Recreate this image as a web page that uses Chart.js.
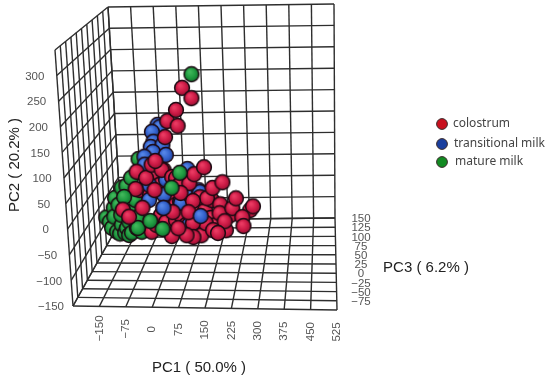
<!DOCTYPE html>
<html>
<head>
<meta charset="utf-8">
<title>PCA of milk samples</title>
<script src="https://cdn.jsdelivr.net/npm/chart.js@4/dist/chart.umd.min.js"></script>
<style>
  html, body { margin: 0; padding: 0; background: #fff; }
  canvas { display: block; }
</style>
</head>
<body>
<canvas id="pca" width="550" height="382"></canvas>
<script>
// grid ticks of the box, first or last one has no printed label
const pc1Ticks = [-225, -150, -75, 0, 75, 150, 225, 300, 375, 450, 525];
const pc2Ticks = [-150, -100, -50, 0, 50, 100, 150, 200, 250, 300, 350];
const pc3Ticks = [-100, -75, -50, -25, 0, 25, 50, 75, 100, 125, 150];
const pc1Labels = [-150, -75, 0, 75, 150, 225, 300, 375, 450, 525];
const pc2Labels = [-150, -100, -50, 0, 50, 100, 150, 200, 250, 300];
const pc3Labels = [-75, -50, -25, 0, 25, 50, 75, 100, 125, 150];

const seriesNames = ["colostrum", "transitional milk", "mature milk"];

// depth can't be read from a flat picture, all samples sit on one PC3 plane
const pc3Plane = 25;

// samples, listed back to front because that is how they overlap
const matureBackPC1 = [-187, -177, -171, -162, -162, -156, -156, -147, -147, -140, -140, -134, -131, -125, -119, -119, -116, -110, -110, -103, -94, -94, -91, -79, -79, -77];
const matureBackPC2 = [-53, -62, -75, -32, -51, -83, -11, -26, -87, -68, -47, 11, -85, -75, 15, -90, -62, -41, -85, 32, -15, -75, -53, -83, 45, 72];

const colostrumBackPC1 = [-79, -48, -48, -33, -33, -17, -17, -2, -2, 14, 29, 29, 44, 60, 60, 75, 91, 100, 106, 121, 137, 143, 152, 183, 198];
const colostrumBackPC2 = [6, -4, -83, 38, -68, -47, 17, -62, 49, -15, -58, -26, -47, -4, -68, -26, -79, -36, -90, -36, -53, -15, -68, -79, -47];

const transitionalMidPC1 = [-14, -8, -32, -29, -38, -2, -32, 7, -59, -59, 71, -48, 4, -5, -51, -8, 44, 47, 69, 75, 103, 106];
const transitionalMidPC2 = [145, 140, 130, 109, 98, 102, 87, 81, 77, 60, 51, 17, 28, -4, -15, -32, -19, -21, -68, -4, 6, 2];

const colostrumMidPC1 = [-85, -57, -38, -8, -91, -33, 23, 35, 44, 75, 47, 91, 122, 106, 128, 146, 84, 177, 168, 165, 205, 217, 260, 269, 235, 238, 180, 121, 143, 158, 81, 81, 60, 14, 35, 20, 69];
const colostrumMidPC2 = [45, 32, 60, 49, 8, 6, 34, 32, 17, 21, 0, 40, 55, -9, -11, 11, -17, 23, -24, -43, -32, -11, -36, -28, -51, -70, -60, -64, -79, -85, -64, -94, -90, -92, -75, -41, -41];

const matureFrontPC1 = [-128, -91, -51, -14, 20, 47];
const matureFrontPC2 = [-9, -75, -60, -77, 11, 43];

const transitionalFrontPC1 = [-8, 106];
const transitionalFrontPC2 = [-32, -49];

const colostrumFrontPC1 = [-134, -116, -73, -26, 7, 16, 47, 44, 65, 92];
const colostrumFrontPC2 = [-36, -51, -32, 68, 119, 153, 143, 177, 224, 202];

const matureTopPC1 = [95];
const matureTopPC2 = [253];

// screen position of the eight box corners, that's the camera
const backView = { tl: [108, 7], tr: [334, 4], bl: [121, 220], br: [335, 218] };
const frontView = { tl: [55, 50], tr: [336, 54], bl: [73, 306], br: [337, 310] };

function mix(a, b, t) {
  return a + (b - a) * t;
}

function project(pc1, pc2, pc3) {
  const u = (pc1 - pc1Ticks[0]) / (pc1Ticks[pc1Ticks.length - 1] - pc1Ticks[0]);
  const v = (pc2 - pc2Ticks[0]) / (pc2Ticks[pc2Ticks.length - 1] - pc2Ticks[0]);
  const w = (pc3Ticks[pc3Ticks.length - 1] - pc3) / (pc3Ticks[pc3Ticks.length - 1] - pc3Ticks[0]);
  const onPlane = (view, i) => mix(mix(view.bl[i], view.br[i], u), mix(view.tl[i], view.tr[i], u), v);
  return {
    x: mix(onPlane(backView, 0), onPlane(frontView, 0), w),
    y: mix(onPlane(backView, 1), onPlane(frontView, 1), w)
  };
}

function makeBall(light, mid, dark) {
  const c = document.createElement("canvas");
  c.width = 18;
  c.height = 18;
  const g = c.getContext("2d");
  const grad = g.createRadialGradient(7, 6.5, 1, 9, 9, 8);
  grad.addColorStop(0, light);
  grad.addColorStop(0.55, mid);
  grad.addColorStop(1, dark);
  g.beginPath();
  g.arc(9, 9, 7.4, 0, Math.PI * 2);
  g.fillStyle = grad;
  g.fill();
  g.lineWidth = 1.5;
  g.strokeStyle = "#1c0a12";
  g.stroke();
  return c;
}

const redBall = makeBall("#ea3a62", "#cb1a45", "#8f0f30");
const blueBall = makeBall("#5585e6", "#3462cc", "#1f3f98");
const greenBall = makeBall("#3fb65a", "#1f9a40", "#0f6a2a");

function gridLine(points) {
  return {
    type: "line",
    data: points,
    borderColor: "#2e2e2e",
    borderWidth: 1.4,
    pointRadius: 0,
    order: 1000,
    parsing: false
  };
}

function ballLayer(name, ball, pc1, pc2, order) {
  return {
    type: "scatter",
    label: name,
    data: pc1.map((p, i) => project(p, pc2[i], pc3Plane)),
    pointStyle: ball,
    pointRadius: 7,
    order: order,
    parsing: false
  };
}

const pc1Min = pc1Ticks[0], pc1Max = pc1Ticks[pc1Ticks.length - 1];
const pc2Min = pc2Ticks[0], pc2Max = pc2Ticks[pc2Ticks.length - 1];
const pc3Min = pc3Ticks[0], pc3Max = pc3Ticks[pc3Ticks.length - 1];

const datasets = [];
pc1Ticks.forEach(t => {
  datasets.push(gridLine([project(t, pc2Min, pc3Max), project(t, pc2Max, pc3Max)]));
  datasets.push(gridLine([project(t, pc2Min, pc3Max), project(t, pc2Min, pc3Min)]));
});
pc2Ticks.forEach(t => {
  datasets.push(gridLine([project(pc1Min, t, pc3Max), project(pc1Max, t, pc3Max)]));
  datasets.push(gridLine([project(pc1Min, t, pc3Max), project(pc1Min, t, pc3Min)]));
});
pc3Ticks.forEach(t => {
  datasets.push(gridLine([project(pc1Min, pc2Min, t), project(pc1Max, pc2Min, t)]));
  datasets.push(gridLine([project(pc1Min, pc2Min, t), project(pc1Min, pc2Max, t)]));
});

datasets.push(ballLayer(seriesNames[2], greenBall, matureBackPC1, matureBackPC2, 7));
datasets.push(ballLayer(seriesNames[0], redBall, colostrumBackPC1, colostrumBackPC2, 6));
datasets.push(ballLayer(seriesNames[1], blueBall, transitionalMidPC1, transitionalMidPC2, 5));
datasets.push(ballLayer(seriesNames[0], redBall, colostrumMidPC1, colostrumMidPC2, 4));
datasets.push(ballLayer(seriesNames[2], greenBall, matureFrontPC1, matureFrontPC2, 3));
datasets.push(ballLayer(seriesNames[1], blueBall, transitionalFrontPC1, transitionalFrontPC2, 2));
datasets.push(ballLayer(seriesNames[0], redBall, colostrumFrontPC1, colostrumFrontPC2, 1));
datasets.push(ballLayer(seriesNames[2], greenBall, matureTopPC1, matureTopPC2, 0));

function tickText(v) {
  return String(v).replace("-", "\u2212");
}

// tick labels, axis titles and the legend aren't something Chart.js does for a 3d box
const boxText = {
  id: "boxText",
  afterDraw(chart) {
    const ctx = chart.ctx;
    const sx = chart.scales.x, sy = chart.scales.y;
    const at = p => [sx.getPixelForValue(p.x), sy.getPixelForValue(p.y)];
    ctx.save();
    ctx.textBaseline = "middle";
    ctx.textAlign = "center";
    ctx.font = '11.5px "Liberation Sans", Arial, sans-serif';
    ctx.fillStyle = "#555555";

    pc2Labels.forEach(t => {
      const [x, y] = at(project(pc1Min, t, pc3Min));
      ctx.fillText(tickText(t), x - 22, y + 1);
    });
    pc3Labels.forEach(t => {
      const [x, y] = at(project(pc1Max, pc2Min, t));
      ctx.fillText(tickText(t), 361, y + 1);
    });
    pc1Labels.forEach(t => {
      const [x, y] = at(project(t, pc2Min, pc3Min));
      ctx.save();
      ctx.translate(x, y + 22);
      ctx.rotate(-Math.PI / 2);
      ctx.fillText(tickText(t), 0, 0);
      ctx.restore();
    });

    ctx.font = '15px "Liberation Sans", Arial, sans-serif';
    ctx.fillStyle = "#222222";
    ctx.fillText("PC1 ( 50.0% )", 199, 368);
    ctx.fillText("PC3 ( 6.2% )", 426, 268);
    ctx.save();
    ctx.translate(15, 165);
    ctx.rotate(-Math.PI / 2);
    ctx.fillText("PC2 ( 20.2% )", 0, 0);
    ctx.restore();

    const legendColors = ["#c8101e", "#1a3f9e", "#128a22"];
    const legendY = [124, 144, 162];
    const legendX = [453, 454, 455];
    ctx.font = '12px "Noto Sans", sans-serif';
    ctx.textAlign = "left";
    seriesNames.forEach((name, i) => {
      ctx.beginPath();
      ctx.arc(442, legendY[i], 5.4, 0, Math.PI * 2);
      ctx.fillStyle = legendColors[i];
      ctx.fill();
      ctx.lineWidth = 1;
      ctx.strokeStyle = "#3a2a2a";
      ctx.stroke();
      ctx.fillStyle = "#444444";
      ctx.fillText(name, legendX[i], legendY[i]);
    });
    ctx.restore();
  }
};

new Chart(document.getElementById("pca"), {
  type: "scatter",
  data: { datasets: datasets },
  options: {
    responsive: false,
    animation: false,
    events: [],
    layout: { padding: 0, autoPadding: false },
    plugins: { legend: { display: false }, tooltip: { enabled: false } },
    scales: {
      x: { type: "linear", display: false, min: 0, max: 550 },
      y: { type: "linear", display: false, min: 0, max: 382, reverse: true }
    }
  },
  plugins: [boxText]
});
</script>
</body>
</html>
